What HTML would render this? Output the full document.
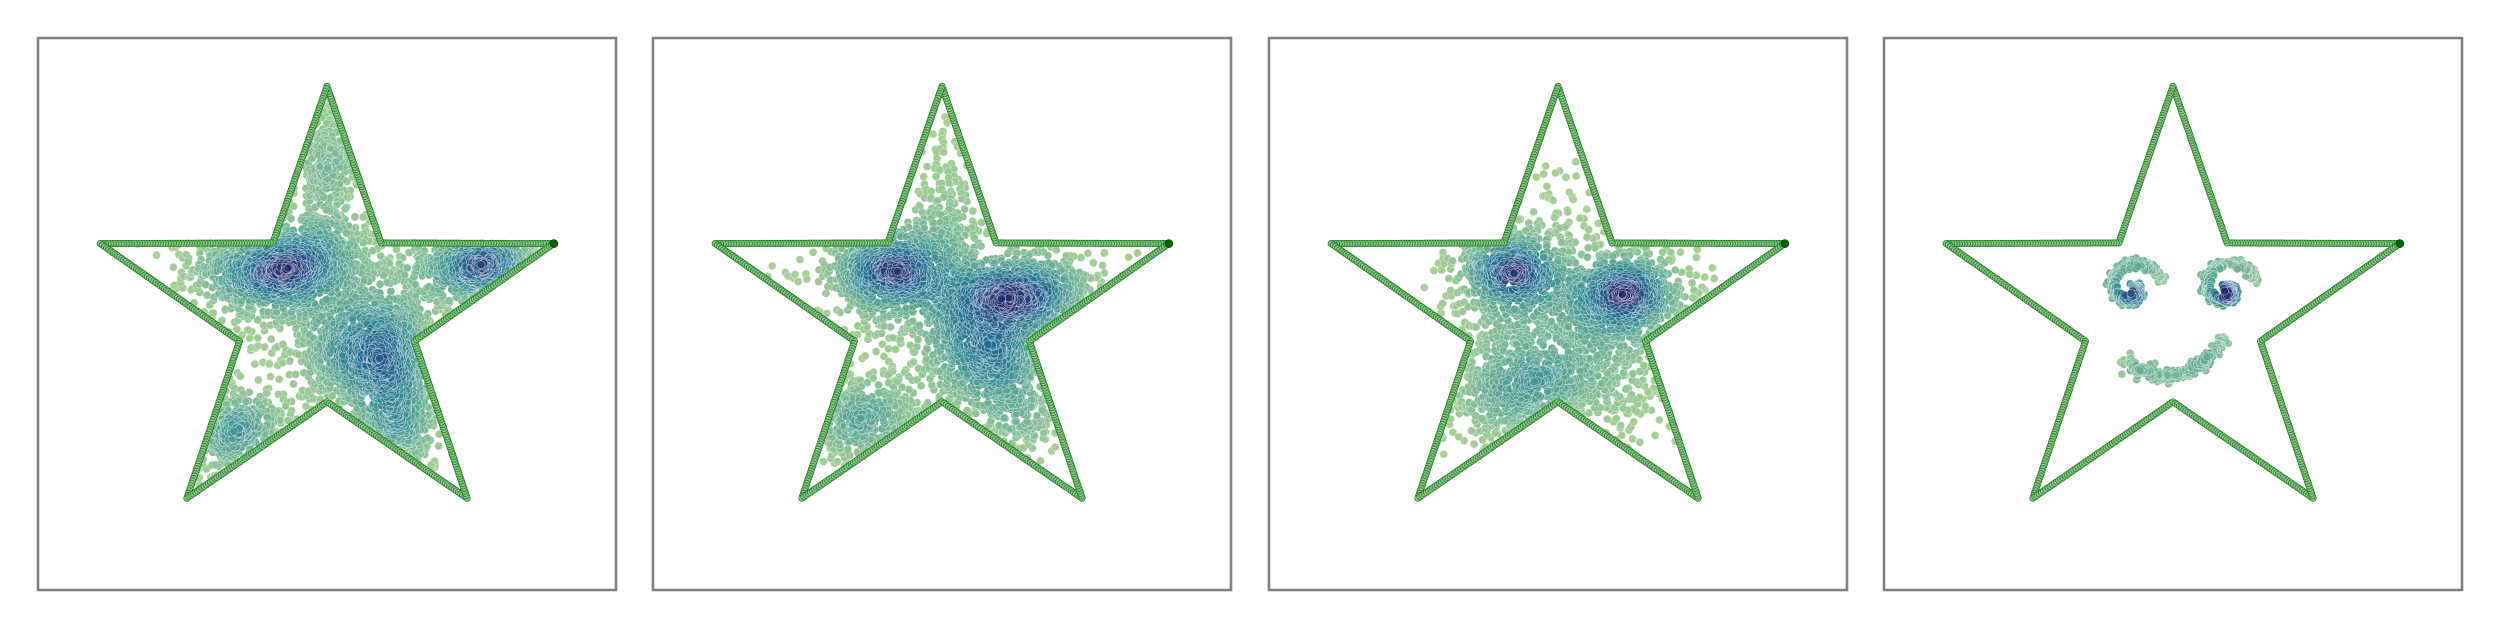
<!DOCTYPE html>
<html><head><meta charset="utf-8"><style>
html,body{margin:0;padding:0;background:#fff;}
svg{display:block;font-family:"Liberation Sans",sans-serif;}
</style></head><body>
<svg id="fig" width="2500" height="625" viewBox="0 0 2500 625" xmlns="http://www.w3.org/2000/svg"></svg>
<script>
// Panel layout (data limits)
const xLim = [-1.2, 1.2];
const yLim = [-1.2, 1.2];
// Star geometry (data)
const starOuter = [0.99];
const starInner = [0.382];
// Cluster data per panel
const p1cx = [-0.21, 0.21, 0.65, -0.40, 0.00, 0.28, 0.00, -0.15];
const p1cy = [0.20, -0.18, 0.22, -0.52, 0.62, -0.55, 0.05, 0.20];
const p1sx = [0.17, 0.15, 0.16, 0.14, 0.06, 0.08, 0.25, 0.30];
const p1sy = [0.09, 0.15, 0.08, 0.10, 0.20, 0.15, 0.25, 0.15];
const p1n = [900, 1100, 650, 380, 300, 320, 350, 250];
const p2cx = [-0.20, 0.33, 0.19, -0.34, 0.02, 0.30, -0.05];
const p2cy = [0.19, 0.09, -0.16, -0.47, 0.45, -0.45, 0.00];
const p2sx = [0.14, 0.17, 0.14, 0.13, 0.08, 0.09, 0.30];
const p2sy = [0.10, 0.09, 0.14, 0.09, 0.20, 0.14, 0.25];
const p2n = [750, 800, 700, 320, 160, 200, 300];
const p3cx = [-0.18, 0.28, 0.02, -0.18, 0.05];
const p3cy = [0.18, 0.09, -0.22, -0.38, 0.40];
const p3sx = [0.12, 0.13, 0.26, 0.14, 0.10];
const p3sy = [0.10, 0.10, 0.15, 0.12, 0.15];
const p3n = [700, 750, 750, 300, 60];
// Panel 4 face
const eyeCx = [-0.17, 0.22];
const eyeCy = [0.11, 0.11];
const eyeR = [0.13, 0.13];
const smileX = [-0.20, -0.12, -0.03, 0.07, 0.15, 0.21];
const smileY = [-0.20, -0.25, -0.27, -0.245, -0.19, -0.11];

const panelsLeft = [38, 653, 1269, 1884];
const panelW = 578, panelTop = 38, panelH = 552;
const NS = 'http://www.w3.org/2000/svg';
const svg = document.getElementById('fig');

let seed = 12345;
function rnd(){ seed = (seed * 1664525 + 1013904223) >>> 0; return seed / 4294967296; }
function gauss(){ let u = rnd() || 1e-9, v = rnd(); return Math.sqrt(-2*Math.log(u))*Math.cos(2*Math.PI*v); }

function starVerts(){
  const v = [];
  for (let k = 0; k < 10; k++){
    const a = Math.PI/2 + k*Math.PI/5;
    const r = k % 2 === 0 ? starOuter[0] : starInner[0];
    v.push([r*Math.cos(a), r*Math.sin(a)]);
  }
  return v;
}
const SV = starVerts();
function inStar(x, y){
  let c = false;
  for (let i = 0, j = SV.length-1; i < SV.length; j = i++){
    const xi = SV[i][0], yi = SV[i][1], xj = SV[j][0], yj = SV[j][1];
    if (((yi > y) !== (yj > y)) && (x < (xj-xi)*(y-yi)/(yj-yi)+xi)) c = !c;
  }
  return c;
}
const crest = [[0,'#a9d195'],[0.18,'#80bc96'],[0.38,'#56a495'],[0.56,'#348c94'],[0.72,'#24738f'],[0.86,'#2a5888'],[1,'#2b2f6e']];
function hex(h){return [parseInt(h.slice(1,3),16),parseInt(h.slice(3,5),16),parseInt(h.slice(5,7),16)];}
function cmap(t){
  t = Math.max(0, Math.min(1, t));
  for (let i = 1; i < crest.length; i++){
    if (t <= crest[i][0]){
      const a = crest[i-1], b = crest[i], f = (t-a[0])/(b[0]-a[0]);
      const ca = hex(a[1]), cb = hex(b[1]);
      return 'rgb(' + ca.map((c,k)=>Math.round(c+(cb[k]-c)*f)).join(',') + ')';
    }
  }
  return crest[crest.length-1][1];
}

function makePanel(idx, pts, h, gam){
  const left = panelsLeft[idx];
  const sx = x => left + (x - xLim[0])/(xLim[1]-xLim[0])*panelW;
  const sy = y => panelTop + (yLim[1] - y)/(yLim[1]-yLim[0])*panelH;
  const g = document.createElementNS(NS, 'g');
  
  
  svg.appendChild(g);
  const cell = {};
  pts.forEach((p,i)=>{ const k = Math.floor(p[0]/h)+','+Math.floor(p[1]/h); (cell[k]=cell[k]||[]).push(i); });
  const dens = pts.map(p=>{
    const gx = Math.floor(p[0]/h), gy = Math.floor(p[1]/h); let s = 0;
    for (let a=-1;a<=1;a++) for (let b=-1;b<=1;b++){
      const L = cell[(gx+a)+','+(gy+b)]; if (!L) continue;
      for (const j of L){ const dx = pts[j][0]-p[0], dy = pts[j][1]-p[1]; const d2 = dx*dx+dy*dy; if (d2 < h*h) s += 1 - d2/(h*h); }
    }
    return s;
  });
  const mx = Math.max(1, ...dens);
  const order = pts.map((p,i)=>i).sort((a,b)=>dens[a]-dens[b]);
  const sg = document.createElementNS(NS, 'g');
  
  
  g.appendChild(sg);
  let html = '';
  for (const i of order){
    const p = pts[i];
    html += '<circle cx="'+sx(p[0]).toFixed(1)+'" cy="'+sy(p[1]).toFixed(1)+'" r="4" fill="'+cmap(Math.pow(dens[i]/mx,gam))+'" stroke="#ffffff" stroke-opacity="0.5" stroke-width="0.6"/>';
  }
  sg.innerHTML = html;
  const og = document.createElementNS(NS, 'g');
  
  
  g.appendChild(og);
  let oh = '';
  const start = 8;
  const seq = [];
  for (let e = 0; e < 10; e++){
    const a = SV[(start+e)%10], b = SV[(start+e+1)%10];
    const L = Math.hypot(sx(b[0])-sx(a[0]), sy(b[1])-sy(a[1]));
    const n = Math.round(L/2.6);
    for (let t = 0; t < n; t++){ const f = t/n; seq.push([a[0]+(b[0]-a[0])*f, a[1]+(b[1]-a[1])*f]); }
  }
  seq.push(SV[start]);
  seq.forEach((p,i)=>{
    const last = i === seq.length-1;
    oh += '<circle cx="'+sx(p[0]).toFixed(1)+'" cy="'+sy(p[1]).toFixed(1)+'" r="'+(last?4:3.2)+'" fill="'+(last?'#006400':'#82c482')+'" stroke="'+(last?'#004d00':'#1f7a1f')+'" stroke-width="0.7"/>';
  });
  og.innerHTML = oh;
  const fr = document.createElementNS(NS, 'rect');
  fr.setAttribute('x', left); fr.setAttribute('y', panelTop);
  fr.setAttribute('width', panelW); fr.setAttribute('height', panelH);
  fr.setAttribute('fill', 'none'); fr.setAttribute('stroke', '#808080'); fr.setAttribute('stroke-width', '2.6');
  
  
  g.appendChild(fr);
}

function clusterPts(cx, cy, sxa, sya, na){
  const pts = [];
  for (let c = 0; c < cx.length; c++){
    let made = 0, tries = 0;
    while (made < na[c] && tries < na[c]*20){
      tries++;
      const x = cx[c] + gauss()*sxa[c], y = cy[c] + gauss()*sya[c];
      if (inStar(x, y)){ pts.push([x,y]); made++; }
    }
  }
  return pts;
}
makePanel(0, clusterPts(p1cx, p1cy, p1sx, p1sy, p1n), 0.15, 1.4);
makePanel(1, clusterPts(p2cx, p2cy, p2sx, p2sy, p2n), 0.15, 1.4);
makePanel(2, clusterPts(p3cx, p3cy, p3sx, p3sy, p3n), 0.15, 1.5);
(function(){
  const pts = [];
  for (let e = 0; e < eyeCx.length; e++){
    for (let i = 0; i < 300; i++){
      const u = Math.pow(rnd(), 1.1);
      const t = u * 2.2 * Math.PI;
      const r = eyeR[e] * (1 - t/(2.3*Math.PI));
      const a = Math.PI*0.1 + t;
      pts.push([eyeCx[e] + r*Math.cos(a) + gauss()*0.01, eyeCy[e] + r*Math.sin(a) + gauss()*0.01]);
    }
  }
  for (let i = 0; i < 220; i++){
    const f = rnd()*(smileX.length-1), k = Math.min(Math.floor(f), smileX.length-2), w = f-k;
    pts.push([smileX[k]+(smileX[k+1]-smileX[k])*w + gauss()*0.014, smileY[k]+(smileY[k+1]-smileY[k])*w + gauss()*0.016]);
  }
  makePanel(3, pts, 0.08, 1.3);
})();
</script>
</body></html>
